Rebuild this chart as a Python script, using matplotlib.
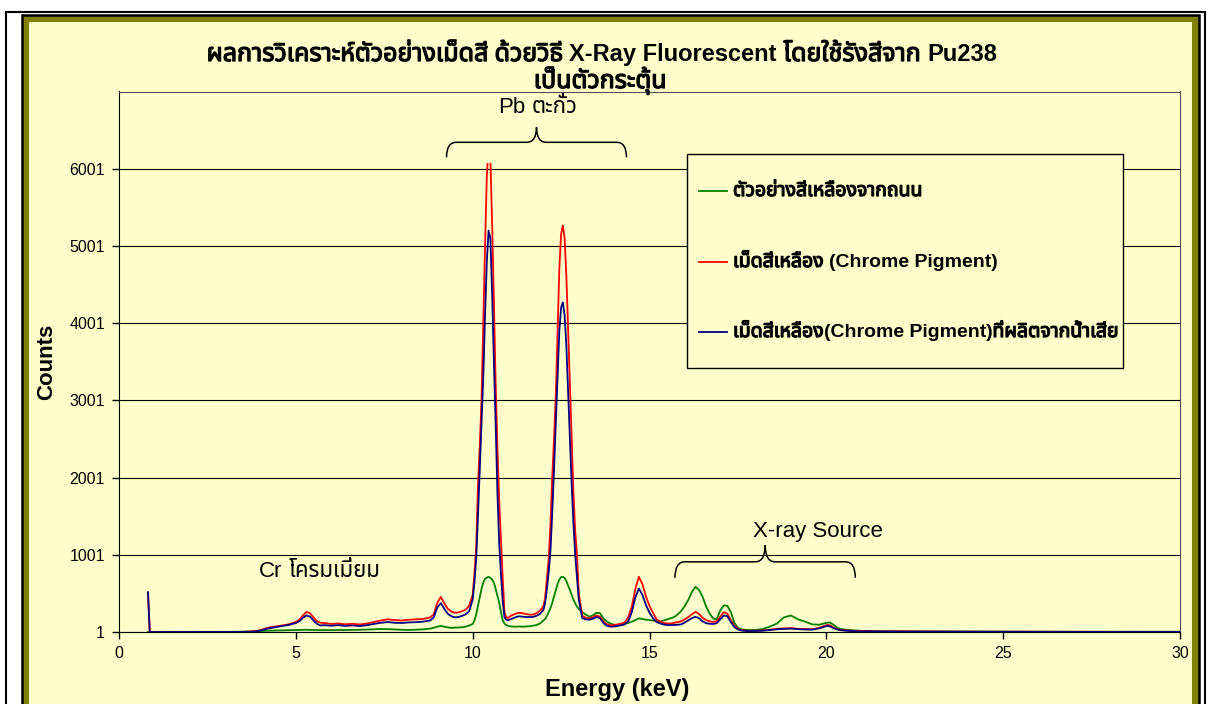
import re
import matplotlib
matplotlib.use("Agg")
import matplotlib.pyplot as plt
import matplotlib.patheffects as pe
from matplotlib import font_manager
from matplotlib.patches import Rectangle, PathPatch
from matplotlib.path import Path

# pick a Thai-capable font if one is installed
thai_fonts = sorted({f.name for f in font_manager.fontManager.ttflist if "Thai" in f.name},
                    key=lambda n: (n != "Noto Sans Thai", "Looped" in n, "Serif" in n, n))
FONTS = ["Liberation Sans"] + thai_fonts[:1] + ["DejaVu Sans"]
plt.rcParams["font.family"] = FONTS

# ---- data ----
energy = [
    0.82, 0.87, 1.0, 2.0, 3.0, 3.5, 3.8,
    4.0, 4.2, 4.4, 4.6, 4.8, 5.0,
    5.1, 5.2, 5.3, 5.4, 5.5, 5.6, 5.7, 5.8,
    6.0, 6.2, 6.4, 6.6, 6.8, 7.0, 7.2, 7.4, 7.6, 7.8, 8.0, 8.2, 8.4, 8.6, 8.8,
    8.9, 9.0, 9.1, 9.2, 9.3, 9.4, 9.5, 9.6, 9.7, 9.8, 9.9,
    10.0, 10.05, 10.1, 10.15, 10.2, 10.25, 10.3, 10.35, 10.4, 10.45, 10.5,
    10.55, 10.6, 10.65, 10.7, 10.75, 10.8, 10.85, 10.9, 10.95, 11.0,
    11.1, 11.2, 11.3, 11.4, 11.5, 11.6, 11.7, 11.8, 11.9, 12.0,
    12.05, 12.1, 12.15, 12.2, 12.25, 12.3, 12.35, 12.4, 12.45, 12.5,
    12.55, 12.6, 12.65, 12.7, 12.75, 12.8, 12.85, 12.9, 12.95, 13.0,
    13.1, 13.2, 13.3, 13.4, 13.5, 13.6, 13.7, 13.8, 13.9, 14.0,
    14.1, 14.2, 14.3, 14.4, 14.5, 14.6, 14.7, 14.8, 14.9, 15.0,
    15.1, 15.2, 15.3, 15.4, 15.5, 15.6, 15.7, 15.8, 15.9, 16.0,
    16.1, 16.2, 16.3, 16.4, 16.5, 16.6, 16.7, 16.8, 16.9, 17.0,
    17.1, 17.2, 17.3, 17.4, 17.5, 17.6,
    17.8, 18.0, 18.2, 18.4, 18.6, 18.8, 19.0, 19.2, 19.4, 19.6,
    19.8, 20.0, 20.1, 20.2, 20.3, 20.4, 20.6, 20.8, 21.0,
    21.5, 22, 23, 24, 25, 26, 27, 28, 29, 30,
]

road_sample = [  # green
    1, 1, 1, 1, 2, 4, 8,
    12, 18, 20, 22, 24, 25,
    26, 28, 30, 28, 27, 26, 25, 26,
    25, 27, 26, 28, 30, 32, 36, 40, 38, 34, 30, 28, 32, 35, 45,
    55, 70, 80, 70, 60, 55, 58, 60, 62, 70, 85,
    105, 150, 230, 340, 457, 560, 640, 690, 705, 716, 700,
    680, 640, 560, 470, 380, 260, 150, 110, 90, 80,
    72, 70, 72, 70, 72, 75, 82, 92, 110, 150,
    170, 210, 260, 310, 380, 460, 540, 620, 680, 712,
    716, 700, 660, 600, 545, 480, 420, 370, 330, 300,
    260, 225, 200, 215, 250, 245, 175, 135, 110, 95,
    90, 98, 108, 118, 135, 155, 178, 170, 160, 155,
    148, 140, 135, 150, 165, 180, 195, 230, 275, 340,
    420, 520, 586, 545, 460, 330, 240, 175, 165, 280,
    345, 340, 260, 120, 55, 35,
    26, 28, 40, 70, 110, 190, 215, 165, 135, 100,
    95, 120, 125, 95, 60, 40, 28, 22, 15,
    10, 8, 6, 5, 4, 4, 3, 3, 3, 3,
]

chrome_pigment = [  # red
    515, 1, 1, 1, 2, 3, 8,
    25, 55, 70, 85, 100, 130,
    160, 215, 260, 245, 190, 140, 120, 118,
    105, 112, 100, 108, 98, 110, 130, 150, 165, 155, 150, 160, 165, 170, 190,
    230, 380, 455, 370, 300, 265, 250, 255, 270, 290, 340,
    480, 750, 1100, 1900, 2400, 3000, 4000, 5000, 5900, 6310, 6150,
    5300, 4300, 3200, 2400, 1700, 1200, 700, 250, 190, 185,
    215, 235, 250, 245, 235, 225, 225, 245, 275, 330,
    450, 700, 950, 1400, 2000, 2500, 3050, 3900, 4700, 5150,
    5266, 5100, 4600, 3900, 3200, 2500, 1800, 1300, 1000, 500,
    210, 185, 178, 190, 215, 200, 135, 100, 88, 92,
    100, 108, 125, 195, 330, 560, 716, 620, 460, 340,
    250, 165, 135, 118, 112, 110, 120, 130, 140, 165,
    195, 230, 262, 235, 185, 155, 140, 132, 140, 200,
    258, 240, 155, 80, 45, 25,
    15, 18, 22, 30, 42, 48, 50, 42, 38, 36,
    55, 90, 88, 60, 40, 28, 20, 15, 12,
    9, 8, 6, 5, 5, 4, 4, 3, 3, 3,
]

pigment_from_wastewater = [  # blue
    515, 1, 1, 1, 2, 3, 6,
    20, 45, 62, 78, 92, 118,
    140, 185, 215, 200, 150, 105, 85, 90,
    82, 90, 80, 86, 78, 88, 105, 120, 130, 120, 118, 125, 128, 135, 150,
    190, 320, 375, 300, 235, 205, 190, 195, 210, 230, 270,
    420, 650, 950, 1500, 2100, 2700, 3300, 4100, 4800, 5200, 5100,
    4400, 3500, 2700, 1800, 1150, 750, 400, 190, 160, 155,
    170, 190, 205, 200, 195, 195, 195, 210, 235, 285,
    380, 560, 780, 1050, 1550, 2100, 2700, 3300, 3900, 4200,
    4270, 4100, 3700, 3100, 2500, 1900, 1400, 1000, 700, 420,
    180, 165, 160, 172, 195, 180, 115, 80, 70, 72,
    80, 88, 100, 140, 260, 450, 565, 480, 350, 250,
    180, 130, 112, 98, 92, 90, 92, 95, 100, 125,
    152, 180, 198, 180, 140, 115, 108, 105, 115, 165,
    215, 205, 130, 65, 35, 20,
    12, 15, 18, 26, 36, 42, 45, 38, 34, 32,
    48, 78, 75, 52, 35, 25, 16, 12, 10,
    8, 7, 6, 5, 4, 4, 3, 3, 3, 3,
]

series_labels = [
    "ตัวอย่างสีเหลืองจากถนน",
    "เม็ดสีเหลือง (Chrome Pigment)",
    "เม็ดสีเหลือง(Chrome Pigment)ที่ผลิตจากน้ำเสีย",
]
series_colors = ["#008000", "#FF0000", "#000080"]

x_ticks = [0, 5, 10, 15, 20, 25, 30]
y_ticks = [1, 1001, 2001, 3001, 4001, 5001, 6001]

assert len(energy) == len(road_sample) == len(chrome_pigment) == len(pigment_from_wastewater)

YELLOW = "#FFFFCC"
OLIVE = "#808000"
W, H = 1208, 704


def px(x0, y0, x1, y1):
    # pixel box (top-left origin) -> figure fraction rectangle
    return (x0 / W, 1 - y1 / H), (x1 - x0) / W, (y1 - y0) / H


fig = plt.figure(figsize=(W / 100, H / 100), dpi=100, facecolor="white")

# frame: outer thin black line, olive border, pale yellow chart area
xy, w, h = px(6, 12, 1205, 720)
fig.add_artist(Rectangle(xy, w, h, transform=fig.transFigure, fill=False, ec="black",
                         lw=1.5, zorder=-3))
xy, w, h = px(22, 15, 1199, 720)
fig.add_artist(Rectangle(xy, w, h, transform=fig.transFigure, fc=OLIVE, ec="black",
                         lw=1.8, zorder=-2))
xy, w, h = px(29, 22, 1192, 720)
fig.add_artist(Rectangle(xy, w, h, transform=fig.transFigure, fc=YELLOW, ec="none", zorder=-1))

ax = fig.add_axes([119 / W, 1 - 632 / H, (1180 - 119) / W, (632 - 91.5) / H])
ax.set_facecolor(YELLOW)

for data, lab, col in zip([road_sample, chrome_pigment, pigment_from_wastewater],
                          series_labels, series_colors):
    ax.plot(energy, data, color=col, lw=1.3, label=lab, zorder=2)

ax.set_xlim(0, 30)
ax.set_ylim(1, 7001)
ax.set_xticks(x_ticks)
ax.set_yticks(y_ticks)
ax.tick_params(direction="out", length=5, width=1, labelsize=11.5, pad=5)
ax.yaxis.grid(True, color="black", lw=0.8)
ax.set_axisbelow(True)
for s in ["top", "right"]:
    ax.spines[s].set_color("#505050")

ax.set_xlabel("Energy (keV)", fontsize=17, fontweight="bold", va="center")
ax.xaxis.set_label_coords(0.47, -0.107)
ax.set_ylabel("Counts", fontsize=16, fontweight="bold", va="center")
ax.yaxis.set_label_coords(-0.068, 0.5)


def brace(x0, x1, y_line, y_tip, y_end):
    xc = (x0 + x1) / 2
    d = 0.28
    verts = [(x0, y_end), (x0, y_line), (x0 + d, y_line),
             (xc - d, y_line), (xc, y_line), (xc, y_tip),
             (xc, y_line), (xc + d, y_line),
             (x1 - d, y_line), (x1, y_line), (x1, y_end)]
    codes = [Path.MOVETO, Path.CURVE3, Path.CURVE3,
             Path.LINETO, Path.CURVE3, Path.CURVE3,
             Path.CURVE3, Path.CURVE3,
             Path.LINETO, Path.CURVE3, Path.CURVE3]
    ax.add_patch(PathPatch(Path(verts, codes), fill=False, ec="black", lw=1.1, zorder=5))


# brace over the Pb peaks (its filled shape hides the peak tip)
ax.add_patch(Rectangle((9.5, 6080), 4.6, 250, fc=YELLOW, ec="none", zorder=4))
brace(9.26, 14.35, 6343, 6537, 6149)
brace(15.72, 20.82, 910, 1126, 703)


# legend box drawn in axes fractions
def axf(xp, yp):
    return (xp - 119) / 1061, (632 - yp) / 540.5


bx0, by0 = axf(687, 368)
bx1, by1 = axf(1123, 154)
ax.add_patch(Rectangle((bx0, by0), bx1 - bx0, by1 - by0, transform=ax.transAxes,
                       fc=YELLOW, ec="black", lw=1.0, zorder=6))
for yp, col in zip([191, 262, 332], series_colors):
    hx0, hy = axf(699, yp)
    hx1, _ = axf(727, yp)
    ax.plot([hx0, hx1], [hy, hy], color=col, lw=1.3, transform=ax.transAxes, zorder=7)

# mixed Thai / Latin text, laid out run by run
renderer = fig.canvas.get_renderer()
TOKEN = re.compile(r"[\u0E00-\u0E7F]+|[^\u0E00-\u0E7F ]+(?: [^\u0E00-\u0E7F ]+)*| ")
FAKE_BOLD = [pe.withStroke(linewidth=0.9, foreground="black")]


def rich_text(x_px, base_px, s, size, thai_size, bold=False, ha="center"):
    pieces = []
    for tok in TOKEN.findall(s):
        if tok == " ":
            pieces.append((None, 0.28 * size * 100 / 72))
            continue
        if "\u0E00" <= tok[0] <= "\u0E7F":
            t = fig.text(0, 0, tok, fontsize=thai_size, ha="left", va="baseline", zorder=8,
                         path_effects=FAKE_BOLD if bold else None)
        else:
            t = fig.text(0, 0, tok, fontsize=size, fontweight="bold" if bold else "normal",
                         ha="left", va="baseline", zorder=8)
        pieces.append((t, t.get_window_extent(renderer).width))
    total = sum(wd for _, wd in pieces)
    cur = x_px - total / 2 if ha == "center" else x_px
    for t, wd in pieces:
        if t is not None:
            t.set_position((cur / W, 1 - base_px / H))
        cur += wd


rich_text(602, 61, "ผลการวิเคราะห์ตัวอย่างเม็ดสี ด้วยวิธี X-Ray Fluorescent โดยใช้รังสีจาก Pu238",
          17, 18, bold=True)
rich_text(600, 88, "เป็นตัวกระตุ้น", 17, 18, bold=True)
rich_text(538, 113, "Pb ตะกั่ว", 16, 16)
rich_text(818, 537, "X-ray Source", 16, 16)
rich_text(320, 577, "Cr โครมเมี่ยม", 16, 16)
for yp, lab in zip([196, 267, 337], series_labels):
    rich_text(733, yp, lab, 14, 14, bold=True, ha="left")

fig.savefig("out.png", dpi=100, facecolor="white")
